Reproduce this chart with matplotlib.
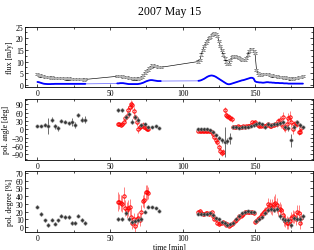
import numpy as np
import matplotlib
matplotlib.use("Agg")
import matplotlib.pyplot as plt
from matplotlib.ticker import MultipleLocator

plt.rcParams['font.family'] = ['Liberation Serif', 'DejaVu Serif']

# ---------------- flux light curves ----------------
flux_t1 = np.arange(0, 34)
flux1 = [4.5, 4.3, 4.0, 3.8, 3.6, 3.5, 3.3, 3.3, 3.2, 3.1,
         3.2, 3.0, 3.1, 3.0, 2.9, 3.0, 2.9, 2.8, 2.9, 2.8,
         2.7, 2.7, 2.8, 2.6, 2.6, 2.5, 2.6, 2.5, 2.4, 2.3,
         2.4, 2.3, 2.2, 2.3]
blue1 = [1.2, 1.1, 0.9, 0.7, 0.5, 0.4, 0.35, 0.3, 0.3, 0.3,
         0.35, 0.35, 0.4, 0.4, 0.4, 0.4, 0.4, 0.4, 0.4, 0.4,
         0.4, 0.4, 0.4, 0.4, 0.4, 0.4, 0.4, 0.4, 0.4, 0.4,
         0.4, 0.4, 0.4, 0.4]
flux_t2 = np.arange(55, 86)
flux2 = [3.6, 3.7, 3.6, 3.6, 3.5, 3.4, 3.5, 3.2, 3.0, 2.9,
         2.8, 2.7, 2.8, 2.7, 2.6, 2.8, 3.0, 3.5, 4.2, 5.0,
         5.8, 6.5, 7.2, 7.8, 8.3, 8.5, 8.2, 7.9, 7.8, 7.6, 7.5]
blue2 = [0.6, 0.6, 0.7, 0.7, 0.7, 0.6, 0.5, 0.4, 0.3, 0.3,
         0.3, 0.3, 0.3, 0.3, 0.3, 0.4, 0.5, 0.7, 0.9, 1.2,
         1.5, 1.7, 1.9, 2.0, 2.0, 1.9, 1.8, 1.7, 1.6, 1.6, 1.6]
flux_t3 = np.arange(111, 184)
flux3 = [10.0, 10.5, 13.0, 15.0, 16.5, 18.0, 19.0, 20.0, 20.6, 21.2,
         22.0, 22.3, 21.8, 21.0, 19.0, 16.8, 14.8, 13.0, 11.3, 10.0,
         8.8, 9.0, 10.5, 12.0, 12.3, 12.2, 12.0, 11.8, 11.5, 11.0,
         10.8, 10.6, 10.5, 11.5, 13.0, 14.5, 15.5, 15.3, 14.5, 13.5,
         6.5, 5.0, 4.3, 4.2, 4.5, 4.6, 4.8, 4.7, 4.5, 4.3,
         4.2, 4.0, 3.8, 3.7, 3.6, 3.5, 3.4, 3.3, 3.2, 3.1,
         3.2, 3.0, 2.8, 2.7, 2.6, 2.6, 2.8, 3.0, 3.1, 3.2,
         3.3, 3.5, 3.6]
blue3 = [1.7, 1.8, 2.0, 2.3, 2.6, 3.0, 3.4, 3.7, 3.9, 4.0,
         3.9, 3.7, 3.4, 3.0, 2.6, 2.2, 1.8, 1.4, 1.0, 0.6,
         0.3, 0.2, 0.3, 0.5, 0.7, 0.9, 1.1, 1.3, 1.5, 1.7,
         1.9, 2.0, 2.2, 2.4, 2.6, 2.8, 3.0, 3.0, 2.7, 1.5,
         1.2, 1.1, 1.0, 1.0, 0.9, 0.9, 1.0, 1.1, 1.1, 1.0,
         1.0, 0.9, 0.9, 0.8, 0.8, 0.8, 0.7, 0.7, 0.7, 0.6,
         0.6, 0.6, 0.5, 0.5, 0.5, 0.5, 0.5, 0.5, 0.5, 0.5,
         0.5, 0.5, 0.5]
flux_err = 0.45

# ---------------- polarisation, black (one band) ----------------
pb_t1 = [0, 2.5, 5, 7.5, 10, 12, 14.5, 16.5, 19, 21.5, 23.5, 26, 28, 30.5, 32.5]
pb_ang1 = [12, 11, 17, 12, 35, 11, 4, 31, 28, 22, 26, 16, 52, 35, 35]
pb_ang1_err = [5, 4, 5, 28, 8, 10, 10, 6, 5, 6, 14, 12, 6, 10, 12]
pb_deg1 = [26.6, 17, 8.6, 3, 9.4, 4.3, 8.6, 15, 13, 13.3, 5, 5, 15, 9.4, 5]
pb_deg1_err = [2, 2, 2, 2.5, 2, 2, 2, 2, 2.5, 2.5, 2.5, 2.5, 2.5, 2.5, 2.5]

pb_t2 = [55.5, 58.5, 61, 63, 65, 67, 69.5, 71.5, 74, 76.5, 79, 81.5, 84]
pb_ang2 = [70, 70, 45, 55, 28, 45, 35, 15, 18, 10, 8, 12, 5]
pb_ang2_err = [6, 6, 6, 8, 10, 8, 8, 6, 6, 4, 4, 4, 4]
pb_deg2 = [10, 10, 18, 11, 6.4, 7.7, 8.6, 11, 20, 26.6, 25.7, 24.5, 21.5]
pb_deg2_err = [2.5, 2.5, 2.5, 2.5, 2.5, 2.5, 2.5, 2.5, 2, 1.5, 1.5, 1.5, 1.5]

pb_t3 = [111, 113, 115, 117, 119, 121, 123, 125, 127, 129,
         131, 133, 135, 137, 139, 141, 143, 145, 147, 149,
         151, 153, 155, 157, 159, 161, 163, 165, 167, 169,
         171, 173, 175, 177, 179, 181, 183]
pb_ang3 = [0, 0, 0, 0, -3, -10, -20, -30, -40, -45,
           -42, -32, 10, 8, 5, 8, 8, 10, 12, 15,
           20, 22, 18, 8, 20, 15, 18, 20, 22, 25,
           8, 5, -40, 10, 25, 15, 8]
pb_ang3_err = [3, 3, 3, 3, 3, 4, 5, 6, 8, 55,
               10, 20, 6, 5, 5, 5, 5, 5, 5, 5,
               5, 5, 5, 5, 5, 5, 5, 6, 6, 6,
               8, 10, 25, 8, 8, 8, 6]
pb_deg3 = [17.5, 17.5, 17.5, 17.5, 18, 16, 12, 10, 7, 6,
           2.5, 4, 5, 10, 15, 18, 20, 21, 20, 19,
           8, 11, 13, 18, 22, 24, 22, 24, 14, 10,
           9, 9, 2.5, 12, 11, 11, 14]
pb_deg3_err = [1.5, 1.5, 1.5, 1.5, 1.5, 1.5, 1.5, 1.5, 1.5, 1.5,
               1.5, 1.5, 1.5, 1.5, 1.5, 1.5, 1.5, 1.5, 1.5, 1.5,
               2, 2, 2, 2.5, 2.5, 3, 3, 3, 3, 3,
               3, 3, 3, 3, 3, 3, 3]

# ---------------- polarisation, red (other band) ----------------
pr_t2 = np.arange(55.5, 77.0, 1.0)
pr_ang2 = [18, 18, 16, 20, 25, 40, 50, 70, 80, 90,
           88, 65, 45, 25, 0, 8, 12, 15, 10, 5, 2, 0]
pr_ang2_err = [6, 6, 6, 8, 10, 12, 12, 15, 15, 15,
               15, 15, 12, 12, 12, 10, 10, 10, 8, 8, 6, 6]
pr_deg2 = [33, 33, 31, 30, 40, 25, 22, 25, 26, 13,
           5, 10, 2, 10, 12, 9, 20, 34, 35, 45, 45, 44]
pr_deg2_err = [12, 10, 10, 10, 12, 10, 10, 10, 10, 10,
               8, 8, 8, 8, 8, 8, 8, 8, 10, 10, 10, 8]

pr_t3 = np.arange(111, 183)
pr_ang3 = [-5, -6, -5, -6, -5, -5, -6, -5, -7, -10,
           -15, -28, -40, -45, -62, -78, -85, -80, 70, 52,
           48, 44, 42, 38, 10, 8, 10, 12, 9, 8,
           10, 12, 10, 11, 13, 12, 15, 25, 22, 28,
           18, 15, 12, 14, 16, 13, 12, 15, 18, 14,
           12, 16, 15, 20, 18, 30, 35, 20, 44, 10,
           5, 20, 40, 45, 25, 0, 20, 22, 20, -10,
           -8, 5]
pr_ang3_err = [4, 4, 4, 4, 4, 4, 4, 4, 4, 5,
               6, 8, 8, 10, 10, 10, 10, 10, 10, 10,
               10, 10, 10, 10, 6, 5, 5, 5, 5, 5,
               5, 5, 5, 5, 5, 5, 5, 6, 6, 6,
               6, 6, 6, 6, 6, 6, 6, 6, 6, 6,
               6, 6, 8, 8, 8, 10, 12, 15, 20, 15,
               15, 20, 20, 20, 15, 15, 12, 12, 12, 12,
               10, 10]
pr_deg3 = [20, 21, 18, 17, 17, 18, 18, 17, 18, 19,
           14, 11, 10, 6, 4, 5, 6, 7, 5, 3,
           4, 2, 3, 4, 5, 8, 9, 12, 14, 15,
           16, 17, 19, 20, 20, 19, 19, 19, 18, 7,
           8, 10, 12, 14, 17, 20, 21, 23, 30, 28,
           25, 26, 30, 31, 28, 23, 24, 22, 16, 10,
           8, 6, 5, 8, 12, 14, 13, 11, 19, 18,
           5, 12]
pr_deg3_err = [2, 2, 2, 2, 2, 2, 2, 2, 2, 2,
               2, 2, 2, 2, 2, 2, 2, 2, 2, 2,
               2, 2, 2, 2, 2, 2, 2, 2, 2, 2,
               2, 2, 2, 2, 2, 2, 2, 2, 2, 3,
               3, 3, 3, 4, 4, 5, 5, 6, 8, 8,
               8, 10, 10, 12, 10, 8, 8, 8, 8, 8,
               8, 8, 8, 8, 8, 8, 8, 8, 10, 10,
               8, 8]

title = "2007 May 15"
xlabel = "time [min]"
ylabels = ["flux [mJy]", "pol. angle [deg]", "pol. degree [%]"]

# ---------------- figure ----------------
fig = plt.figure(figsize=(3.14, 2.51), dpi=100)
ax1 = fig.add_axes([0.080, 0.649, 0.917, 0.241])
ax2 = fig.add_axes([0.080, 0.359, 0.917, 0.243])
ax3 = fig.add_axes([0.080, 0.071, 0.917, 0.245])

fs = 5.5

# flux
ft = np.concatenate([flux_t1, flux_t2, flux_t3])
fv = np.concatenate([flux1, flux2, flux3])
bv = np.concatenate([blue1, blue2, blue3])
ax1.plot(ft, bv, color='#7a7aff', lw=0.6, zorder=1)
for t, b in ((flux_t1, blue1), (flux_t2, blue2), (flux_t3, blue3)):
    ax1.plot(t, b, color='blue', lw=1.3, solid_capstyle='round', zorder=2)
ax1.plot(ft, fv, color='black', lw=0.45, zorder=3)
ax1.errorbar(ft, fv, yerr=flux_err, fmt='o', ms=2.0, mfc='#b8b8b8', mec='none',
             ecolor='black', elinewidth=0.4, capsize=1.2, capthick=0.4, zorder=4)
ax1.set_ylim(-1, 25)
ax1.yaxis.set_major_locator(MultipleLocator(5))
ax1.yaxis.set_minor_locator(MultipleLocator(2.5))

def pol(ax, t, v, e, red):
    if red:
        ax.errorbar(t, v, yerr=e, fmt='o', ms=2.4, mfc='none', mec='red', mew=0.7,
                    ecolor='#ff8080', elinewidth=0.7, capsize=0, zorder=3)
    else:
        ax.errorbar(t, v, yerr=e, fmt='o', ms=2.4, mfc='#333333', mec='#999999', mew=0.4,
                    ecolor='#555555', elinewidth=0.6, capsize=0, zorder=4)

pol(ax2, pr_t2, pr_ang2, pr_ang2_err, True)
pol(ax2, pr_t3, pr_ang3, pr_ang3_err, True)
pol(ax2, pb_t1, pb_ang1, pb_ang1_err, False)
pol(ax2, pb_t2, pb_ang2, pb_ang2_err, False)
pol(ax2, pb_t3, pb_ang3, pb_ang3_err, False)
ax2.set_ylim(-110, 110)
ax2.yaxis.set_major_locator(MultipleLocator(30))
ax2.yaxis.set_minor_locator(MultipleLocator(15))

pol(ax3, pr_t2, pr_deg2, pr_deg2_err, True)
pol(ax3, pr_t3, pr_deg3, pr_deg3_err, True)
pol(ax3, pb_t1, pb_deg1, pb_deg1_err, False)
pol(ax3, pb_t2, pb_deg2, pb_deg2_err, False)
pol(ax3, pb_t3, pb_deg3, pb_deg3_err, False)
ax3.set_ylim(-6.5, 73)
ax3.yaxis.set_major_locator(MultipleLocator(10))

for ax, yl in zip((ax1, ax2, ax3), ylabels):
    ax.set_xlim(-8.5, 190)
    ax.xaxis.set_major_locator(MultipleLocator(50))
    ax.xaxis.set_minor_locator(MultipleLocator(25))
    ax.tick_params(which='both', direction='in', top=True, right=True,
                   labelsize=fs, pad=1.2, width=0.5)
    ax.tick_params(which='major', length=2.5)
    ax.tick_params(which='minor', length=1.3)
    for s in ax.spines.values():
        s.set_linewidth(0.6)
    ax.set_ylabel(yl, fontsize=fs, labelpad=1)

ax3.set_xlabel(xlabel, fontsize=fs, labelpad=0.5)
fig.text(0.54, 0.975, title, ha='center', va='top', fontsize=8.5)

fig.savefig("out.png", dpi=100)
